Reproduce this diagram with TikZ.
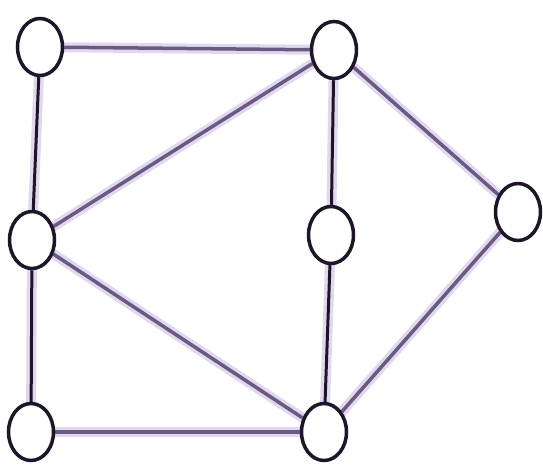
\documentclass[tikz,border=0pt]{standalone}
\usetikzlibrary{shapes.geometric,backgrounds}
\definecolor{inkdark}{RGB}{30,22,40}
\definecolor{inkpurple}{RGB}{105,90,130}
\definecolor{halo}{RGB}{205,190,230}
\tikzset{
  vert/.style={ellipse, draw=inkdark, line width=3.5pt, fill=white,
    minimum width=45pt, minimum height=57pt, inner sep=0pt},
  darkedge/.style={draw=inkdark, line width=3pt},
  softedge/.style={draw=inkpurple, line width=3.5pt},
  haloedge/.style={draw=halo, line width=10pt, opacity=0.6}
}
\begin{document}
\begin{tikzpicture}[x=1pt,y=-1pt]
\useasboundingbox (0,0) rectangle (543,466);
% vertices
\node[vert] (A) at (40,47) {};
\node[vert] (B) at (334,50) {};
\node[vert] (C) at (32,240) {};
\node[vert] (D) at (331,235) {};
\node[vert] (E) at (518,212) {};
\node[vert] (F) at (31,432) {};
\node[vert] (G) at (324,432) {};
\begin{pgfonlayer}{background}
\fill[white] (0,0) rectangle (543,466);
\foreach \u/\v in {A/B,B/C,B/E,C/G,E/G,F/G,A/C,B/D,C/F,D/G}
  \draw[haloedge] (\u.center) -- (\v.center);
\draw[softedge] (A) -- (B);
\draw[softedge] (B) -- (C);
\draw[softedge] (B) -- (E);
\draw[softedge] (C) -- (G);
\draw[softedge] (E) -- (G);
\draw[softedge] (F) -- (G);
\draw[darkedge] (A) -- (C);
\draw[darkedge] (B) -- (D);
\draw[darkedge] (C) -- (F);
\draw[darkedge] (D) -- (G);
\end{pgfonlayer}
\end{tikzpicture}
\end{document}
